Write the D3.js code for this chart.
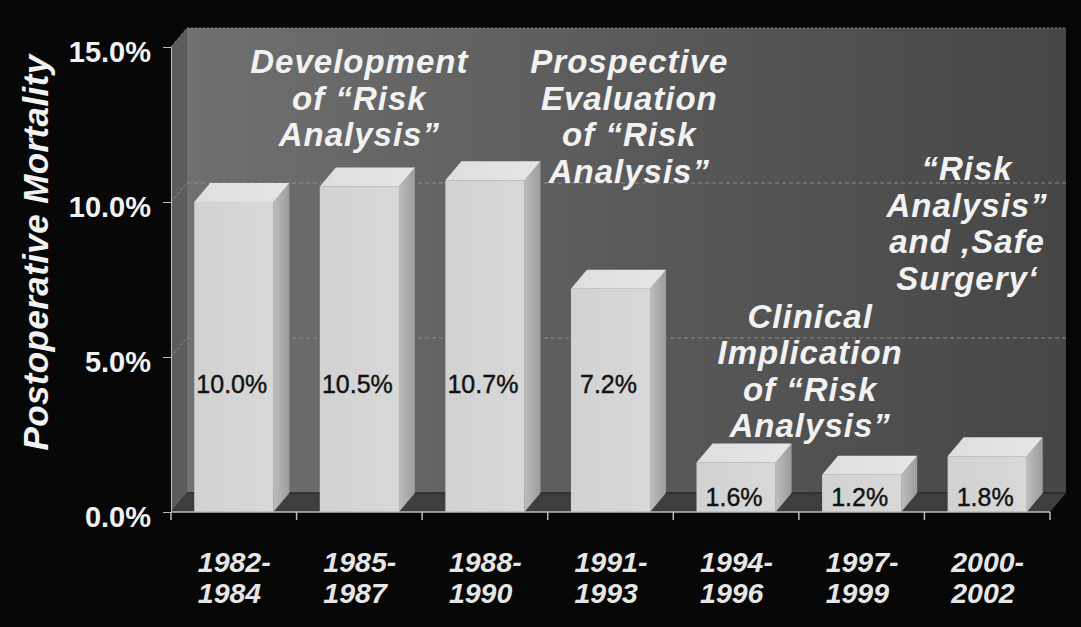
<!DOCTYPE html>
<html>
<head>
<meta charset="utf-8">
<script src="https://cdn.jsdelivr.net/npm/d3@7"></script>
<style>
  html, body { margin: 0; padding: 0; background: #070707; }
  svg { display: block; }
  text { font-family: "Liberation Sans", Arial, Helvetica, sans-serif; }
</style>
</head>
<body>
<svg id="chart" width="1081" height="627"></svg>
<script>
// Postoperative mortality by period
const periods = [["1982-", "1984"], ["1985-", "1987"], ["1988-", "1990"], ["1991-", "1993"],
                 ["1994-", "1996"], ["1997-", "1999"], ["2000-", "2002"]];
const mortality = [10.0, 10.5, 10.7, 7.2, 1.6, 1.2, 1.8];
const yTicks = [0, 5, 10, 15];

// Phase annotations written on the back wall
const phaseLines = [
  ["Development", "of \u201cRisk", "Analysis\u201d"],
  ["Prospective", "Evaluation", "of \u201cRisk", "Analysis\u201d"],
  ["Clinical", "Implication", "of \u201cRisk", "Analysis\u201d"],
  ["\u201cRisk", "Analysis\u201d", "and \u201aSafe", "Surgery\u2018"]
];
// horizontal centre of each phase (in period steps from the axis) and the value at its first baseline
const phaseAt = [1.5, 3.65, 5.09, 6.34];
const phaseTop = [14.15, 14.15, 5.95, 10.7];

const svg = d3.select("#chart");
const W = 1081, H = 627;
const plotLeft = 171, plotRight = 1050, plotBottom = 512, plotTop = 47;
const dx = 16, dy = -19; // depth offset of the 3D box

const keys = periods.map(p => p.join(""));
const x = d3.scaleBand().domain(keys).range([plotLeft, plotRight]).paddingInner(0.37).paddingOuter(0.185);
const y = d3.scaleLinear().domain([0, 15]).range([plotBottom, plotTop]);

svg.append("rect").attr("width", W).attr("height", H).attr("fill", "#070707");

const defs = svg.append("defs");
const wallGrad = defs.append("linearGradient").attr("id", "wall").attr("x1", 0).attr("x2", 1).attr("y1", 0).attr("y2", 0);
wallGrad.append("stop").attr("offset", 0).attr("stop-color", "#707070");
wallGrad.append("stop").attr("offset", 0.55).attr("stop-color", "#585858");
wallGrad.append("stop").attr("offset", 1).attr("stop-color", "#464646");
const sideGrad = defs.append("linearGradient").attr("id", "side").attr("x1", 0).attr("x2", 1).attr("y1", 0).attr("y2", 0);
sideGrad.append("stop").attr("offset", 0).attr("stop-color", "#bdbdbd");
sideGrad.append("stop").attr("offset", 1).attr("stop-color", "#9c9c9c");
const frontGrad = defs.append("linearGradient").attr("id", "front").attr("x1", 0).attr("x2", 1).attr("y1", 0).attr("y2", 0);
frontGrad.append("stop").attr("offset", 0).attr("stop-color", "#d2d2d2");
frontGrad.append("stop").attr("offset", 1).attr("stop-color", "#d8d8d8");
const topGrad = defs.append("linearGradient").attr("id", "topface").attr("x1", 0).attr("x2", 1).attr("y1", 0).attr("y2", 0);
topGrad.append("stop").attr("offset", 0).attr("stop-color", "#dedede");
topGrad.append("stop").attr("offset", 1).attr("stop-color", "#e6e6e6");

const poly = pts => "M" + pts.map(p => p.join(",")).join("L") + "Z";

// back wall
svg.append("path")
  .attr("d", poly([[plotLeft + dx, y(15) + dy], [plotRight + dx, y(15) + dy], [plotRight + dx, y(0) + dy], [plotLeft + dx, y(0) + dy]]))
  .attr("fill", "url(#wall)");
// left side wall
svg.append("path")
  .attr("d", poly([[plotLeft, y(15)], [plotLeft + dx, y(15) + dy], [plotLeft + dx, y(0) + dy], [plotLeft, y(0)]]))
  .attr("fill", "#5c5c5c");
// floor
svg.append("path")
  .attr("d", poly([[plotLeft, y(0)], [plotLeft + dx, y(0) + dy], [plotRight + dx, y(0) + dy], [plotRight, y(0)]]))
  .attr("fill", "#3e3e3e");
svg.append("line")
  .attr("x1", plotLeft + dx).attr("x2", plotRight + dx).attr("y1", y(0) + dy).attr("y2", y(0) + dy)
  .attr("stroke", "#2a2a2a").attr("stroke-width", 1.5);

// gridlines on the walls
const grid = svg.append("g");
yTicks.filter(v => v > 0).forEach(v => {
  grid.append("line")
    .attr("x1", plotLeft + dx).attr("x2", plotRight + dx).attr("y1", y(v) + dy).attr("y2", y(v) + dy)
    .attr("stroke", "#9a9a9a").attr("stroke-width", 1).attr("stroke-dasharray", v === 15 ? "2,2" : "4,3")
    .attr("opacity", 0.8);
  grid.append("line")
    .attr("x1", plotLeft).attr("x2", plotLeft + dx).attr("y1", y(v)).attr("y2", y(v) + dy)
    .attr("stroke", "#9a9a9a").attr("stroke-width", 1).attr("stroke-dasharray", "3,2").attr("opacity", 0.8);
});

// phase annotations on the wall
const notes = svg.append("g");
phaseLines.forEach((lines, i) => {
  const cx = plotLeft + x.step() * phaseAt[i];
  const t = notes.append("text")
    .attr("x", cx).attr("y", y(phaseTop[i]))
    .attr("text-anchor", "middle")
    .attr("fill", "#f2f2f2")
    .attr("font-size", 33).attr("font-weight", "bold").attr("font-style", "italic")
    .attr("letter-spacing", 1);
  lines.forEach((ln, j) => t.append("tspan").attr("x", cx).attr("dy", j === 0 ? 0 : 36.5).text(ln));
});

// 3D bars
const bars = svg.append("g");
mortality.forEach((v, i) => {
  const x0 = x(keys[i]), x1 = x0 + x.bandwidth(), yt = y(v), yb = y(0);
  const g = bars.append("g");
  g.append("path").attr("d", poly([[x1, yt], [x1 + dx, yt + dy], [x1 + dx, yb + dy], [x1, yb]])).attr("fill", "url(#side)");
  g.append("path").attr("d", poly([[x0, yt], [x0 + dx, yt + dy], [x1 + dx, yt + dy], [x1, yt]])).attr("fill", "url(#topface)");
  g.append("rect").attr("x", x0).attr("y", yt).attr("width", x.bandwidth()).attr("height", yb - yt).attr("fill", "url(#front)");
  g.append("text")
    .attr("x", x0 + x.bandwidth() / 2 - 2)
    .attr("y", v > 5 ? y(3.85) : y(0.2))
    .attr("text-anchor", "middle")
    .attr("fill", "#111").attr("stroke", "#111").attr("stroke-width", 0.4)
    .style("font-size", "25px")
    .text(v.toFixed(1) + "%");
});

// value axis
const yAxis = svg.append("g").attr("transform", `translate(${plotLeft},0)`)
  .call(d3.axisLeft(y).tickValues(yTicks).tickSize(8).tickPadding(12).tickFormat(d => d.toFixed(1) + "%"));
yAxis.select(".domain").attr("stroke", "#bdbdbd");
yAxis.selectAll(".tick line").attr("stroke", "#bdbdbd");
yAxis.selectAll(".tick text")
  .attr("fill", "#f2f2f2").attr("font-size", 29).attr("font-weight", "bold")
  .attr("font-family", "Liberation Sans, Arial, sans-serif").attr("dy", "0.5em");

// category axis with ticks between periods
const xAxis = svg.append("g");
xAxis.append("line").attr("x1", plotLeft).attr("x2", plotRight).attr("y1", plotBottom).attr("y2", plotBottom)
  .attr("stroke", "#bdbdbd").attr("stroke-width", 1.5);
d3.range(periods.length + 1).forEach(i => {
  const tx = plotLeft + i * x.step();
  xAxis.append("line").attr("x1", tx).attr("x2", tx).attr("y1", plotBottom).attr("y2", plotBottom + 8)
    .attr("stroke", "#bdbdbd").attr("stroke-width", 1.5);
});
periods.forEach((p, i) => {
  const cx = x(keys[i]) + x.bandwidth() / 2;
  const t = xAxis.append("text")
    .attr("x", cx - 36).attr("y", 572)
    .attr("fill", "#e6e6e6").attr("font-size", 28.5).attr("font-weight", "bold").attr("font-style", "italic");
  t.append("tspan").attr("x", cx - 36).attr("dy", 0).text(p[0]);
  t.append("tspan").attr("x", cx - 36).attr("dy", 31).text(p[1]);
});

// axis title
svg.append("text")
  .attr("transform", `translate(48,${(55 + 450) / 2}) rotate(-90)`)
  .attr("text-anchor", "middle")
  .attr("fill", "#f2f2f2").attr("font-size", 35).attr("font-weight", "bold").attr("font-style", "italic")
  .attr("letter-spacing", 0.4)
  .text("Postoperative Mortality");
</script>
</body>
</html>
